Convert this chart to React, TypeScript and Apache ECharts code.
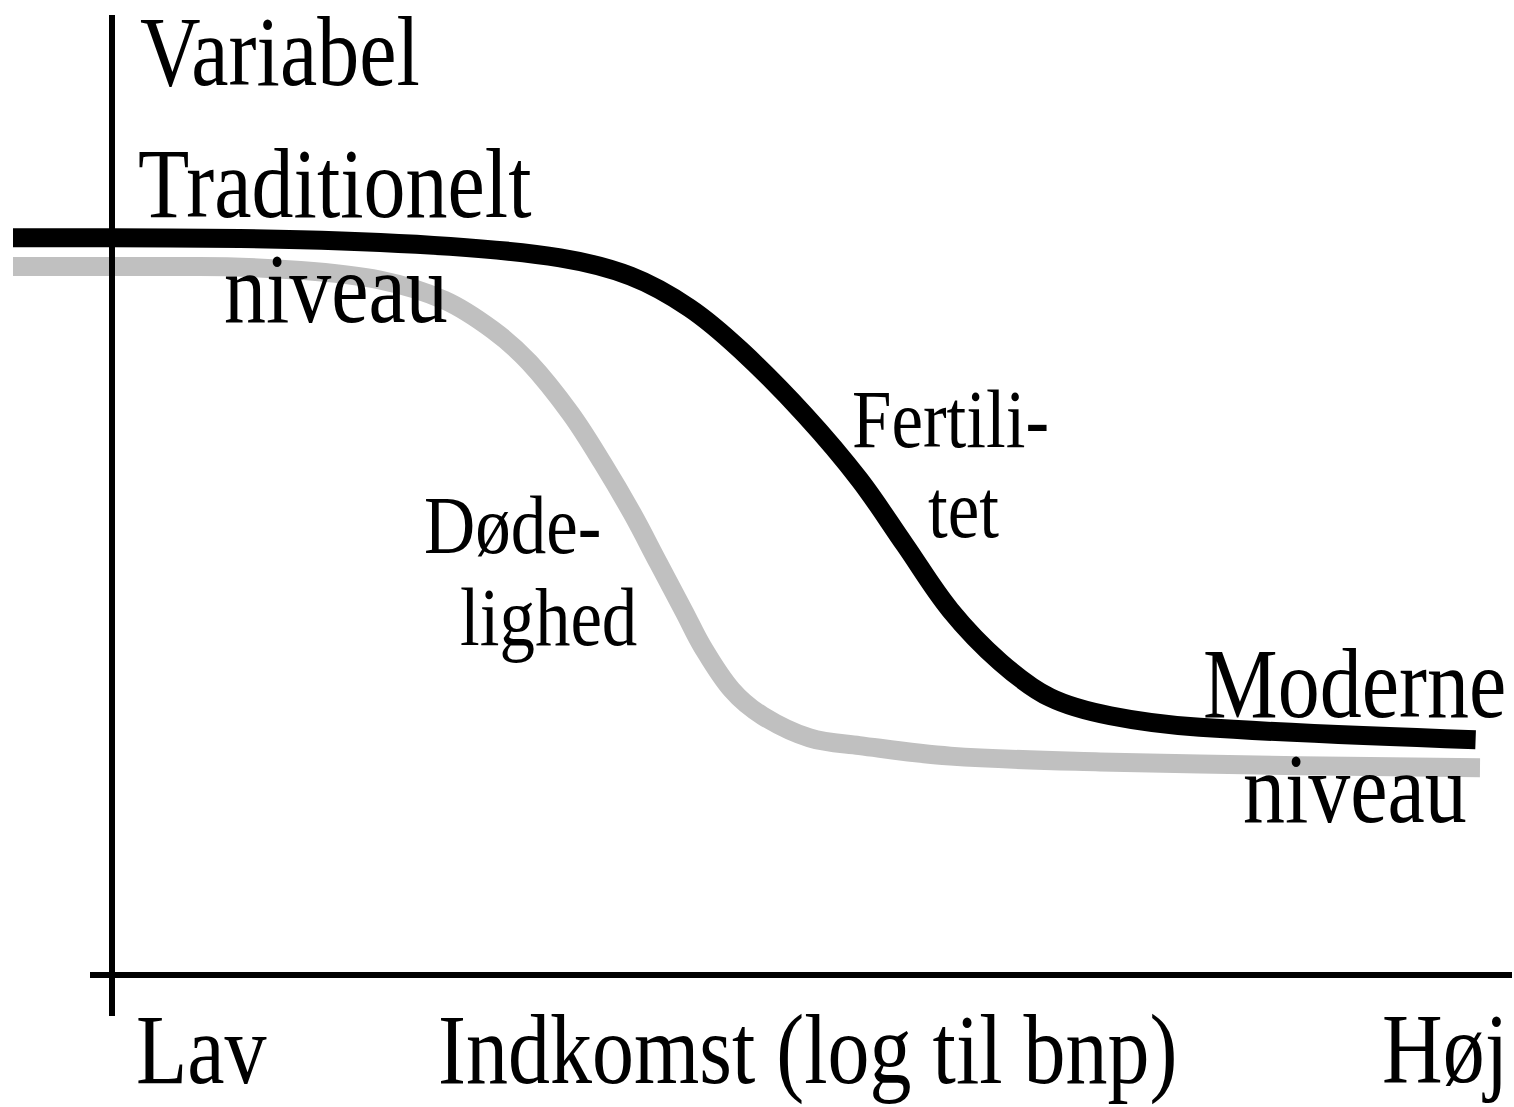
import React, { useEffect, useRef } from "react";
import * as echarts from "echarts";

// Income (x, 0..100 = Lav..Høj) vs. variable level (y, 0..100)
const fertilityX = [0, 6.7, 19.6, 29.8, 37.3, 42.1, 46.1, 49.6, 54.0, 57.7, 60.8, 63.9, 67.3, 70.7, 74.8, 80.9, 99.7];
const fertilityY = [76.8, 76.8, 76.6, 75.9, 74.7, 72.8, 69.5, 65.1, 58.3, 51.6, 44.8, 38.0, 32.6, 28.9, 27.0, 25.8, 24.5];
const mortalityX = [0, 6.7, 12.7, 19.6, 25.0, 29.4, 32.7, 35.2, 38.0, 40.2, 42.2, 44.0, 45.8, 47.0, 49.0, 51.1, 54.3, 57.7, 63.9, 74.1, 87.7, 100];
const mortalityY = [73.8, 73.8, 73.8, 73.4, 72.4, 70.3, 67.2, 63.8, 58.5, 53.3, 48.1, 42.9, 37.7, 34.2, 29.7, 27.0, 24.7, 23.9, 22.8, 22.2, 21.8, 21.6];

const yAxisTitle = "Variabel";
const xAxisTitle = "Indkomst (log til bnp)";
const xLow = "Lav";
const xHigh = "Høj";
const topLevel = ["Traditionelt", "niveau"];
const bottomLevel = ["Moderne", "niveau"];
const fertilityLabel = ["Fertili-", "tet"];
const mortalityLabel = ["Døde-", "lighed"];

const FONT = "'Liberation Serif', 'Times New Roman', serif";

function txt(text: string, x: number, y: number, size: number, sx = 0.84) {
  return {
    type: "text",
    x,
    y,
    scaleX: sx,
    z: 100,
    style: {
      text,
      font: `${size}px ${FONT}`,
      lineHeight: Math.round(size * 0.85),
      fill: "#000",
      align: "left",
      verticalAlign: "middle",
      textAlign: "left",
      textVerticalAlign: "middle",
    },
  };
}

export default function App() {
  const ref = useRef<HTMLDivElement>(null);
  useEffect(() => {
    document.body.style.margin = "0";
    const chart = echarts.init(ref.current!, null, { renderer: "svg" });
    chart.setOption({
      animation: false,
      backgroundColor: "#fff",
      grid: { left: 13, top: 15, width: 1467, height: 960 },
      xAxis: { type: "value", min: 0, max: 100, show: false },
      yAxis: { type: "value", min: 0, max: 100, show: false },
      series: [
        {
          type: "line",
          name: "Dødelighed",
          data: mortalityX.map((x, i) => [x, mortalityY[i]]),
          smooth: 0.35,
          showSymbol: false,
          symbol: "none",
          clip: false,
          z: 2,
          lineStyle: { color: "#c0c0c0", width: 19, cap: "butt", join: "round" },
        },
        {
          type: "line",
          name: "Fertilitet",
          data: fertilityX.map((x, i) => [x, fertilityY[i]]),
          smooth: 0.35,
          showSymbol: false,
          symbol: "none",
          clip: false,
          z: 3,
          lineStyle: { color: "#000", width: 19, cap: "butt", join: "round" },
        },
      ],
      graphic: [
        { type: "line", z: 50, shape: { x1: 112, y1: 15, x2: 112, y2: 1016 }, style: { stroke: "#000", lineWidth: 6 } },
        { type: "line", z: 50, shape: { x1: 90, y1: 975, x2: 1512, y2: 975 }, style: { stroke: "#000", lineWidth: 6 } },
        txt(yAxisTitle, 140, 51, 100),
        txt(topLevel[0], 138, 183, 100),
        txt(topLevel[1], 224, 288, 100),
        txt(bottomLevel[0], 1203, 683, 100),
        txt(bottomLevel[1], 1243, 788, 100),
        txt(xLow, 136, 1049, 100),
        txt(xAxisTitle, 438, 1049, 100),
        txt(xHigh, 1382, 1048, 100),
        txt(fertilityLabel[0], 852, 419, 83, 0.855),
        txt(fertilityLabel[1], 928, 509, 83, 0.855),
        txt(mortalityLabel[0], 424, 525, 83, 0.855),
        txt(mortalityLabel[1], 460, 617, 83, 0.855),
      ],
    });
    return () => chart.dispose();
  }, []);
  return <div ref={ref} style={{ width: 1514, height: 1107 }} />;
}
